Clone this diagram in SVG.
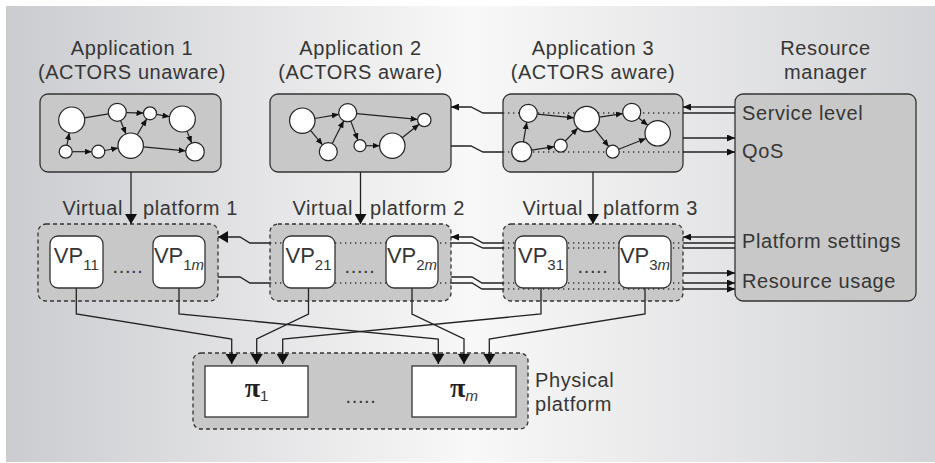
<svg xmlns="http://www.w3.org/2000/svg" width="935" height="463" viewBox="0 0 935 463">
<defs>
<linearGradient id="bg" x1="0" y1="0" x2="1" y2="0">
<stop offset="0" stop-color="#cbccd0"/>
<stop offset="0.5" stop-color="#f8f8f8"/>
<stop offset="1" stop-color="#d3d4d7"/>
</linearGradient>
<marker id="ah" viewBox="0 0 10 12" refX="10" refY="6" markerWidth="10" markerHeight="12" markerUnits="userSpaceOnUse" orient="auto"><path d="M0,0 L10,6 L0,12 z" fill="#111"/></marker>
<marker id="am" viewBox="0 0 8 7" refX="8" refY="3.5" markerWidth="8" markerHeight="7" markerUnits="userSpaceOnUse" orient="auto"><path d="M0,0 L8,3.5 L0,7 z" fill="#111"/></marker>
<marker id="as" viewBox="0 0 7 6" refX="7" refY="3" markerWidth="7" markerHeight="6" markerUnits="userSpaceOnUse" orient="auto"><path d="M0,0 L7,3 L0,6 z" fill="#111"/></marker>
</defs>
<style>
text{font-family:"Liberation Sans",Arial,sans-serif;font-size:20px;fill:#363636;letter-spacing:0.6px}
.t{text-anchor:middle}
.box{fill:#c8c8c8;stroke:#333;stroke-width:1.3}
.dbox{fill:#c8c8c8;stroke:#333;stroke-width:1.3;stroke-dasharray:4 3}
.vp{fill:#fff;stroke:#333;stroke-width:1.3}
.c{fill:#fff;stroke:#222;stroke-width:1.2}
.e{fill:none;stroke:#222;stroke-width:1.2}
.es{fill:none;stroke:#222;stroke-width:1.2;marker-end:url(#as)}
.ln{fill:none;stroke:#222;stroke-width:1.3}
.lh{fill:none;stroke:#222;stroke-width:1.3;marker-end:url(#ah)}
.lm{fill:none;stroke:#222;stroke-width:1.3;marker-end:url(#am)}
.dot{fill:none;stroke:#333;stroke-width:1.3;stroke-dasharray:1.3 3.7}
.vpt{font-size:22px;letter-spacing:0}
.pi{font-family:"Liberation Serif","Times New Roman",serif;font-size:28px;font-weight:bold;letter-spacing:0;fill:#222}
.sub{font-size:15px;letter-spacing:0}
</style>
<rect x="6" y="6" width="929" height="456" fill="url(#bg)"/>

<g id="app1">
<text class="t" x="132" y="55">Application 1</text>
<text class="t" x="132" y="79">(ACTORS unaware)</text>
<rect class="box" x="40" y="94" width="181" height="78" rx="8"/>
</g>
<g id="app2">
<text class="t" x="360.5" y="55">Application 2</text>
<text class="t" x="360.5" y="79">(ACTORS aware)</text>
<rect class="box" x="270" y="94" width="181" height="78" rx="8"/>
</g>
<g id="app3">
<text class="t" x="593" y="55">Application 3</text>
<text class="t" x="593" y="79">(ACTORS aware)</text>
<rect class="box" x="503" y="94" width="180" height="78" rx="8"/>
</g>
<g id="rm">
<text class="t" x="825.5" y="55">Resource</text>
<text class="t" x="825.5" y="79">manager</text>
<rect class="box" x="735" y="94" width="181" height="207" rx="8"/>
<text x="742" y="120">Service level</text>
<text x="742" y="158">QoS</text>
<text x="742" y="248">Platform settings</text>
<text x="742" y="288">Resource usage</text>
</g>
<g id="vp1">
<text x="123" y="215" text-anchor="end">Virtual</text>
<text x="143" y="215">platform 1</text>
<rect class="dbox" x="38" y="224" width="180" height="77" rx="8"/>
<text class="t" x="128" y="273">.....</text>
</g>
<g id="vp2">
<text x="353" y="215" text-anchor="end">Virtual</text>
<text x="370" y="215">platform 2</text>
<rect class="dbox" x="270" y="224" width="181" height="77" rx="8"/>
</g>
<g id="vp3">
<text x="583" y="215" text-anchor="end">Virtual</text>
<text x="603" y="215">platform 3</text>
<rect class="dbox" x="503" y="224" width="180" height="77" rx="8"/>
</g>
<g id="phys">
<rect class="dbox" x="193" y="353" width="335" height="76" rx="8"/>
<text class="t" x="361" y="403">.....</text>
<text x="535" y="387">Physical</text>
<text x="535" y="411">platform</text>
</g>

<g id="connectors">
<path class="dot" d="M503,113 H683 M503,152 H683"/>
<path class="dot" d="M270,243 H451 M270,283 H451"/>
<path class="dot" d="M503,243 H683 M503,248 H683 M503,283 H683 M503,289 H683"/>
<path class="lh" d="M131,172 V224"/>
<path class="lh" d="M360.5,172 V224"/>
<path class="lh" d="M593,172 V224"/>
<path class="lm" d="M735,107 H683"/>
<path class="ln" d="M735,113 H683"/>
<path class="lm" d="M503,113 H483 L471,107 H451"/>
<path class="lm" d="M683,138 H735"/>
<path class="ln" d="M451,146 H471 L483,152 H503"/>
<path class="lm" d="M683,152 H735"/>
<path class="lm" d="M735,237 H683"/>
<path class="ln" d="M735,243 H683 M735,248 H683"/>
<path class="lm" d="M503,243 H483 L472,237 H451"/>
<path class="ln" d="M503,248 H483 L472,243 H451"/>
<path class="lh" d="M270,243 H250 L240,237 H218"/>
<path class="ln" d="M218,277 H240 L250,283 H270"/>
<path class="ln" d="M451,283 H472 L482,289 H503"/>
<path class="ln" d="M451,277 H472 L482,283 H503"/>
<path class="lm" d="M683,273 H735"/>
<path class="lm" d="M683,283 H735"/>
<path class="lm" d="M683,289 H735"/>
<path class="lh" d="M76.3,288 V314 L231.7,339 V364"/>
<path class="lh" d="M179,288 V314 L438.3,339 V364"/>
<path class="lh" d="M308.5,288 V314 L256.7,339 V364"/>
<path class="lh" d="M412,288 V314 L464,339 V364"/>
<path class="lh" d="M541,288 V314 L282.7,339 V364"/>
<path class="lh" d="M645,288 V314 L489.3,339 V364"/>
</g>

<g id="graph1">
<path class="e" d="M84.5,117.8 L108.4,113.8"/>
<path class="es" d="M126.3,112.6 L143.5,113.1"/>
<path class="es" d="M156.4,114.4 L169.5,116.7"/>
<path class="es" d="M120.6,120.7 L126,133.9"/>
<path class="es" d="M137.2,134.8 L146.7,118.9"/>
<path class="es" d="M187,131.1 L191.6,143"/>
<path class="es" d="M66.9,145.3 L69.3,132.8"/>
<path class="es" d="M72.2,151.7 L91.8,151.7"/>
<path class="es" d="M104.7,150.5 L118.2,148"/>
<path class="es" d="M143.3,146.9 L185.7,150.8"/>
<circle class="c" cx="71.7" cy="120" r="13"/>
<circle class="c" cx="117.3" cy="112.3" r="9"/>
<circle class="c" cx="150" cy="113.3" r="6.5"/>
<circle class="c" cx="182.3" cy="119" r="13"/>
<circle class="c" cx="65.7" cy="151.7" r="6.5"/>
<circle class="c" cx="98.3" cy="151.7" r="6.5"/>
<circle class="c" cx="130.7" cy="145.7" r="12.7"/>
<circle class="c" cx="195" cy="151.7" r="9.3"/>
</g>
<g id="graph2">
<path class="es" d="M314.8,118.5 L338.8,114.3"/>
<path class="es" d="M310.5,130.4 L322.5,144.8"/>
<path class="es" d="M332.3,143.6 L343.7,120.8"/>
<path class="es" d="M356.7,113.6 L417.6,119.4"/>
<path class="es" d="M350.8,121.1 L357.9,140.1"/>
<path class="es" d="M366,145.7 L379.6,145.7"/>
<path class="es" d="M402.2,137.8 L419.1,124.2"/>
<circle class="c" cx="302.3" cy="120.7" r="12.7"/>
<circle class="c" cx="347.7" cy="112.7" r="9"/>
<circle class="c" cx="424.3" cy="120" r="6.7"/>
<circle class="c" cx="328.3" cy="151.7" r="9"/>
<circle class="c" cx="360" cy="145.7" r="6"/>
<circle class="c" cx="392.3" cy="145.7" r="12.7"/>
</g>
<g id="graph3">
<path class="es" d="M523.4,141.8 L526.8,122.2"/>
<path class="es" d="M531.6,150.2 L554.3,146.7"/>
<path class="es" d="M537.3,114.2 L574.1,117.8"/>
<path class="es" d="M565.2,141 L577.8,128.1"/>
<path class="es" d="M599.3,117.1 L622.8,113.6"/>
<path class="es" d="M638.7,118 L647.8,125.3"/>
<path class="es" d="M594.6,128.9 L608.7,146.6"/>
<path class="es" d="M618.7,149.2 L645.9,138.5"/>
<circle class="c" cx="528.3" cy="113.3" r="9"/>
<circle class="c" cx="521.7" cy="151.7" r="10"/>
<circle class="c" cx="560.7" cy="145.7" r="6.5"/>
<circle class="c" cx="586.7" cy="119" r="12.7"/>
<circle class="c" cx="631.7" cy="112.3" r="9"/>
<circle class="c" cx="657.7" cy="133.3" r="12.7"/>
<circle class="c" cx="612.7" cy="151.7" r="6.5"/>
</g>

<g id="vp11"><rect class="vp" x="50" y="236" width="53" height="52" rx="8"/><text class="t vpt" x="76.3" y="263">VP<tspan class="sub" dy="7">11</tspan></text></g>
<g id="vp1m"><rect class="vp" x="153" y="236" width="52" height="52" rx="8"/><text class="t vpt" x="179" y="263">VP<tspan class="sub" dy="7">1<tspan font-style="italic">m</tspan></tspan></text></g>
<g id="vp21"><rect class="vp" x="283" y="236" width="52" height="52" rx="8"/><text class="t vpt" x="308.5" y="263">VP<tspan class="sub" dy="7">21</tspan></text></g>
<g id="vp2m"><rect class="vp" x="386" y="236" width="52" height="52" rx="8"/><text class="t vpt" x="412" y="263">VP<tspan class="sub" dy="7">2<tspan font-style="italic">m</tspan></tspan></text></g>
<g id="vp2dots"><text class="t" x="360" y="273">.....</text></g>
<g id="vp31"><rect class="vp" x="515" y="236" width="52" height="52" rx="8"/><text class="t vpt" x="541" y="263">VP<tspan class="sub" dy="7">31</tspan></text></g>
<g id="vp3m"><rect class="vp" x="619" y="236" width="52" height="52" rx="8"/><text class="t vpt" x="645" y="263">VP<tspan class="sub" dy="7">3<tspan font-style="italic">m</tspan></tspan></text></g>
<g id="vp3dots"><text class="t" x="593" y="273">.....</text></g>

<g id="pi1"><rect class="vp" x="205" y="366" width="103" height="51"/><text class="t" x="256.5" y="397"><tspan class="pi">π</tspan><tspan class="sub" dy="4">1</tspan></text></g>
<g id="pim"><rect class="vp" x="412" y="366" width="104" height="51"/><text class="t" x="464" y="397"><tspan class="pi">π</tspan><tspan class="sub" dy="4" font-style="italic">m</tspan></text></g>
</svg>
